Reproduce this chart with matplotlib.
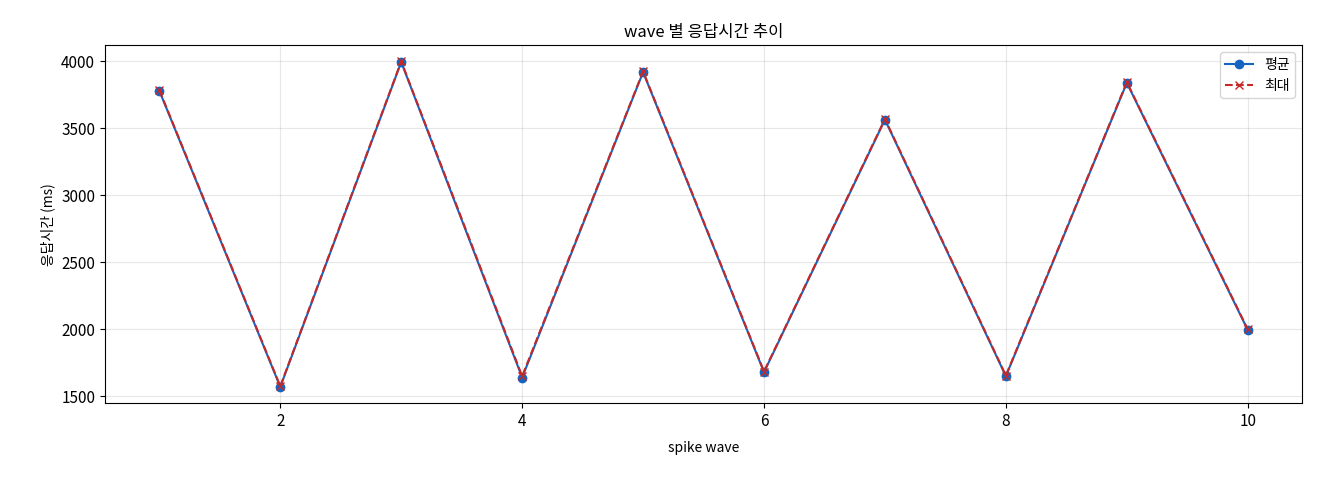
import matplotlib
matplotlib.use("Agg")
import matplotlib.pyplot as plt

plt.rcParams['font.family'] = ['Noto Sans CJK KR', 'DejaVu Sans']
plt.rcParams['axes.unicode_minus'] = False

waves = [1, 2, 3, 4, 5, 6, 7, 8, 9, 10]
avg_ms = [3780, 1570, 3995, 1640, 3920, 1680, 3565, 1650, 3840, 1995]
max_ms = [3785, 1575, 4000, 1650, 3925, 1685, 3570, 1655, 3845, 2000]

fig = plt.figure(figsize=(13.2, 4.8), dpi=100)
ax = fig.add_axes([0.0795, 0.16, 0.907, 0.746])
ax.plot(waves, avg_ms, marker='o', color='#1565C0', label='평균', markersize=6)
ax.plot(waves, max_ms, marker='x', linestyle='--', color='#C62828', label='최대', markersize=6)
ax.set_title('wave 별 응답시간 추이', fontsize=12)
ax.set_xlabel('spike wave', fontsize=10, labelpad=8)
ax.set_ylabel('응답시간 (ms)', fontsize=10)
ax.tick_params(labelsize=11)
ax.grid(True, alpha=0.3)
ax.legend(loc='upper right')
fig.savefig('out.png', dpi=100)
